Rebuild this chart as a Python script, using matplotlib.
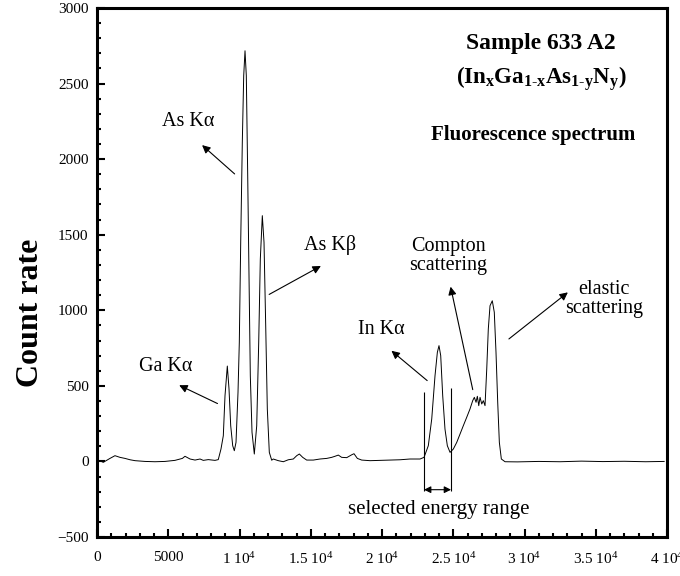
import matplotlib
matplotlib.use("Agg")
import matplotlib.pyplot as plt

# Spectrum (energy in eV, count rate)
energy = [300, 440, 910, 1260, 1610, 1965, 2320, 2670, 3370, 4070, 4770, 5470,
          5990, 6175, 6530, 6880, 7230, 7460, 7810, 8280, 8510, 8700,
          8864, 8983, 9145, 9264, 9383, 9523, 9636, 9755, 9895, 9987, 10085,
          10197, 10295, 10387, 10478, 10576, 10667, 10759, 10878, 11039, 11208,
          11348, 11461, 11601, 11720, 11839, 11952, 12092, 12260,
          12370, 12725, 13075, 13425, 13775, 14015, 14200, 14435, 14715, 15180,
          15650, 16120, 16470, 16700, 16935, 17170, 17525, 17875, 18035, 18270,
          18575, 19160, 19860, 20560, 21265, 21965, 22670, 22950,
          23250, 23490, 23720, 23885, 24000, 24120, 24260, 24420, 24585, 24775,
          25005, 25245, 25475, 25705, 25945, 26175, 26365, 26480, 26600, 26690,
          26790, 26880, 27000, 27110, 27230, 27350, 27460, 27580, 27740, 27880,
          28000, 28120, 28235, 28375, 28635,
          29500, 31000, 32500, 34000, 35500, 37000, 38500, 39800]
counts = [0, -6, 20, 38, 27, 20, 11, 5, 0, -2, 0, 7,
          20, 34, 16, 9, 16, 7, 12, 7, 12, 82,
          170, 435, 631, 479, 236, 104, 71, 126, 457, 788, 1451,
          2111, 2552, 2717, 2552, 1890, 1229, 567, 193, 49, 236,
          788, 1339, 1626, 1450, 898, 347, 60, 8,
          16, 5, -2, 11, 16, 38, 49, 27, 9, 9,
          16, 20, 27, 34, 42, 27, 25, 44, 51, 20,
          9, 5, 7, 9, 11, 16, 16, 27,
          104, 281, 567, 722, 766, 700, 435, 214, 104, 60,
          82, 126, 181, 236, 292, 347, 402, 424, 391, 431,
          369, 424, 380, 402, 369, 611, 876, 1030, 1063, 987,
          722, 391, 126, 16, -2,
          -3, 0, -2, 2, -1, 1, -2, 0]

x_ticks = [0, 5000, 10000, 15000, 20000, 25000, 30000, 35000, 40000]
x_tick_labels = ['0', '5000', r'1 10$^{4}$', r'1.5 10$^{4}$', r'2 10$^{4}$',
                 r'2.5 10$^{4}$', r'3 10$^{4}$', r'3.5 10$^{4}$', r'4 10$^{4}$']
y_ticks = [-500, 0, 500, 1000, 1500, 2000, 2500, 3000]

# selected energy range
range_lo, range_hi = 22950, 24845

plt.rcParams['font.family'] = ['Liberation Serif', 'DejaVu Serif']
plt.rcParams['mathtext.fontset'] = 'custom'
plt.rcParams['mathtext.rm'] = 'Liberation Serif'
plt.rcParams['mathtext.bf'] = 'Liberation Serif:bold'
plt.rcParams['mathtext.it'] = 'Liberation Serif:italic'

fig = plt.figure(figsize=(6.8, 5.76), dpi=100)
ax = fig.add_axes([97 / 680, 39 / 576, 570 / 680, 529 / 576])

ax.plot(energy, counts, color='black', lw=0.7)

ax.set_xlim(0, 40000)
ax.set_ylim(-500, 3000)
ax.set_xticks(x_ticks)
ax.set_xticklabels(x_tick_labels)
ax.set_yticks(y_ticks)
ax.set_xticks(range(0, 40001, 1000), minor=True)
ax.set_yticks(range(-500, 3001, 100), minor=True)
ax.tick_params(which='both', direction='in', top=False, right=False, width=1.5)
ax.tick_params(which='major', length=6, labelsize=11)
ax.tick_params(which='minor', length=3)
ax.tick_params(axis='x', which='major', pad=10)
ax.tick_params(axis='y', which='major', pad=6)
for s in ax.spines.values():
    s.set_linewidth(2.2)

fig.text(30 / 680, 1 - 313 / 576, 'Count rate', rotation=90, fontsize=23,
         fontweight='bold', ha='center', va='center')

arrow = dict(arrowstyle='-|>', color='black', lw=0.8, mutation_scale=12)
fs = 14.5
ax.annotate('', xy=(7229, 2105), xytext=(9804, 1890), arrowprops=arrow)
ax.text(6386, 2252, 'As Kα', fontsize=fs, ha='center', va='center')
ax.annotate('', xy=(15882, 1302), xytext=(11910, 1096), arrowprops=arrow)
ax.text(16352, 1432, 'As Kβ', fontsize=fs, ha='center', va='center')
ax.annotate('', xy=(5593, 512), xytext=(8632, 375), arrowprops=arrow)
ax.text(4842, 631, 'Ga Kα', fontsize=fs, ha='center', va='center')
ax.annotate('', xy=(20514, 744), xytext=(23321, 523), arrowprops=arrow)
ax.text(19931, 876, 'In Kα', fontsize=fs, ha='center', va='center')
ax.annotate('', xy=(24773, 1174), xytext=(26409, 457), arrowprops=arrow)
ax.text(24633, 1359, 'Compton\nscattering', fontsize=fs, ha='center',
        va='center', linespacing=1.0)
ax.annotate('', xy=(33195, 1130), xytext=(28753, 799), arrowprops=arrow)
ax.text(35581, 1075, 'elastic\nscattering', fontsize=fs, ha='center',
        va='center', linespacing=1.0)

ax.vlines(range_lo, -194, 459, color='black', lw=0.8)
ax.vlines(range_hi, -194, 486, color='black', lw=0.8)
ax.annotate('', xy=(range_lo, -187), xytext=(range_hi, -187),
            arrowprops=dict(arrowstyle='<|-|>', color='black', lw=0.8,
                            mutation_scale=10, shrinkA=0, shrinkB=0))
ax.text(24000, -315, 'selected energy range', fontsize=15, ha='center',
        va='center')

ax.text(31160, 2762, 'Sample 633 A2', fontsize=17, fontweight='bold',
        ha='center', va='center')
ax.text(31160, 2530,
        r'$\mathbf{(In_{x}Ga_{1\text{-}x}As_{1\text{-}y}N_{y})}$',
        fontsize=16.5, ha='center', va='center')
ax.text(30600, 2159, 'Fluorescence spectrum', fontsize=15, fontweight='bold',
        ha='center', va='center')

fig.savefig('out.png', dpi=100)
